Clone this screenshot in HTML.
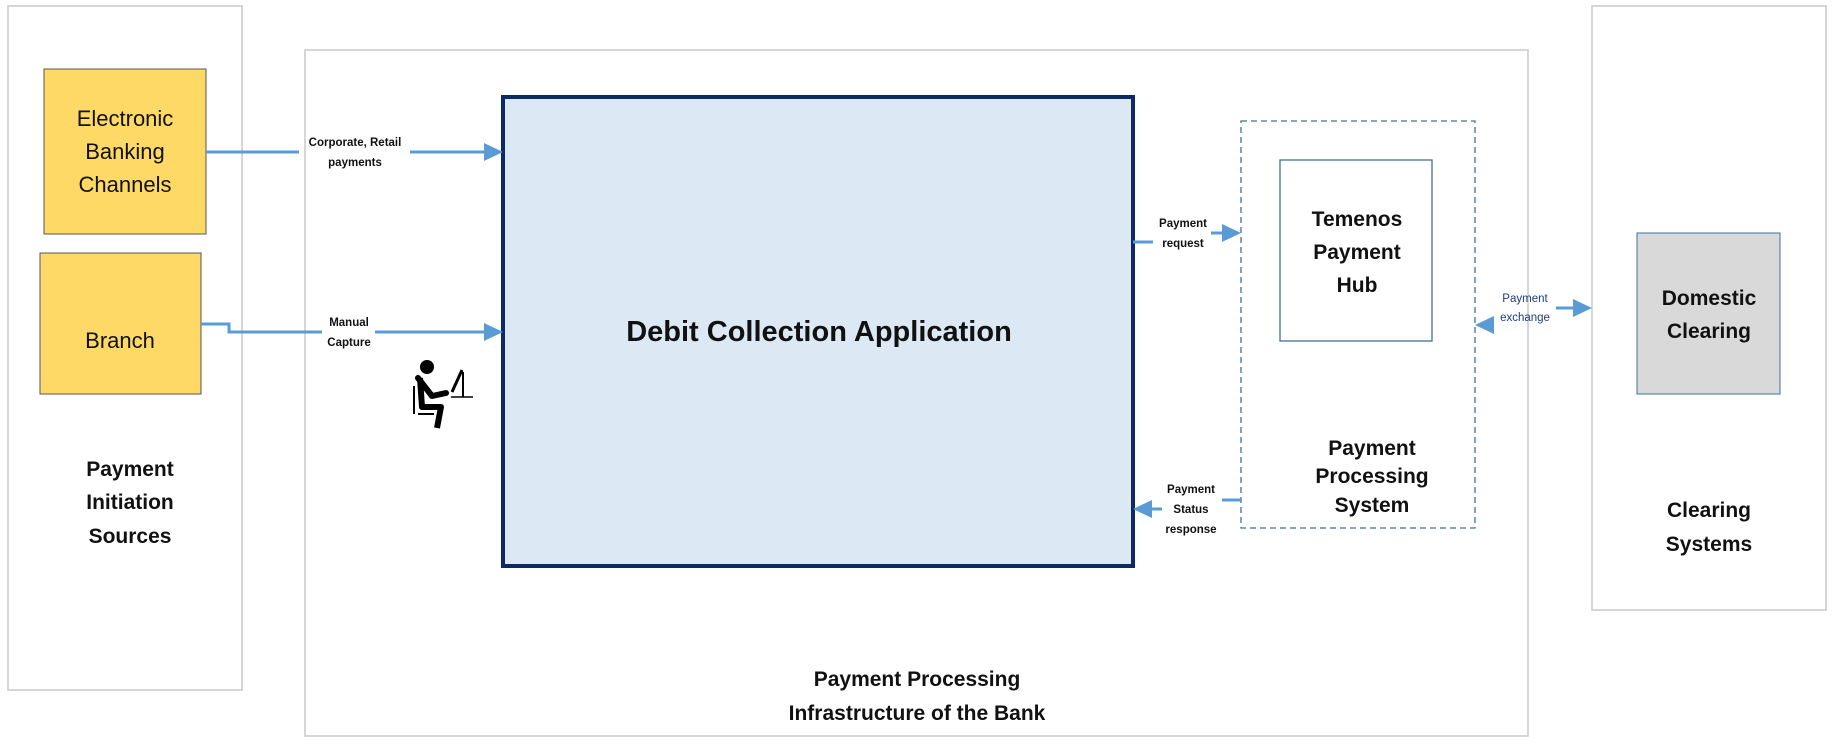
<!DOCTYPE html>
<html><head><meta charset="utf-8"><style>
html,body{margin:0;padding:0;background:#fff;}
svg{display:block;}
text{font-family:"Liberation Sans",sans-serif;}
</style></head><body>
<svg width="1835" height="754" viewBox="0 0 1835 754" xmlns="http://www.w3.org/2000/svg">
<defs>
<marker id="ah" markerWidth="6" markerHeight="6" refX="5" refY="3" orient="auto" markerUnits="strokeWidth">
<path d="M0,0 L6,3 L0,6 Z" fill="#5b9bd5"/></marker>
</defs>
<!-- panels -->
<rect x="8" y="6" width="234" height="684" fill="#fff" stroke="#c8c8c8" stroke-width="1.5"/>
<rect x="305" y="50" width="1223" height="686" fill="#fff" stroke="#c8c8c8" stroke-width="1.5"/>
<rect x="1592" y="6" width="234" height="604" fill="#fff" stroke="#c8c8c8" stroke-width="1.5"/>
<!-- yellow boxes -->
<rect x="44" y="69" width="162" height="165" fill="#ffd966" stroke="#555" stroke-width="1"/>
<rect x="40" y="253" width="161" height="141" fill="#ffd966" stroke="#555" stroke-width="1"/>
<g font-size="22" text-anchor="middle" fill="#111">
<text x="125" y="126">Electronic</text>
<text x="125" y="159">Banking</text>
<text x="125" y="192">Channels</text>
<text x="120" y="348">Branch</text>
</g>
<g font-size="21" font-weight="bold" text-anchor="middle" fill="#111">
<text x="130" y="476">Payment</text>
<text x="130" y="509">Initiation</text>
<text x="130" y="543">Sources</text>
<text x="1709" y="517">Clearing</text>
<text x="1709" y="551">Systems</text>
<text x="917" y="686">Payment Processing</text>
<text x="917" y="720">Infrastructure of the Bank</text>
</g>
<!-- DCA -->
<rect x="503" y="97" width="630" height="469" fill="#dde8f5" stroke="#0b2a66" stroke-width="4"/>
<text x="819" y="341" font-size="29" font-weight="bold" text-anchor="middle" fill="#111">Debit Collection Application</text>
<!-- PPS -->
<rect x="1241" y="121" width="234" height="407" fill="#fff" stroke="#41719c" stroke-width="1.3" stroke-dasharray="6,4"/>
<rect x="1280" y="160" width="152" height="181" fill="#fff" stroke="#41719c" stroke-width="1.3"/>
<g font-size="21" font-weight="bold" text-anchor="middle" fill="#111">
<text x="1357" y="226">Temenos</text>
<text x="1357" y="259">Payment</text>
<text x="1357" y="292">Hub</text>
<text x="1372" y="455">Payment</text>
<text x="1372" y="483">Processing</text>
<text x="1372" y="512">System</text>
</g>
<!-- Domestic clearing -->
<rect x="1637" y="233" width="143" height="161" fill="#d9d9d9" stroke="#41719c" stroke-width="1"/>
<g font-size="21" font-weight="bold" text-anchor="middle" fill="#111">
<text x="1709" y="305">Domestic</text>
<text x="1709" y="338">Clearing</text>
</g>
<!-- connectors -->
<g stroke="#5b9bd5" stroke-width="3" fill="none">
<line x1="206" y1="152" x2="299" y2="152"/>
<line x1="410" y1="152" x2="484" y2="152"/>
<polyline points="201,324 229,324 229,332 322,332"/>
<line x1="375" y1="332" x2="484" y2="332"/>
<line x1="1133" y1="242" x2="1153" y2="242"/>
<line x1="1211" y1="233" x2="1224" y2="233"/>
<line x1="1241" y1="500" x2="1222" y2="500"/>
<line x1="1162" y1="509" x2="1150" y2="509"/>
<line x1="1494" y1="325" x2="1490" y2="325"/>
<line x1="1556" y1="308" x2="1575" y2="308"/>
</g>
<g fill="#5b9bd5">
<polygon points="484,143 503,152 484,161"/>
<polygon points="484,323 503,332 484,341"/>
<polygon points="1222,224 1241,233 1222,242"/>
<polygon points="1152,500 1133,509 1152,518"/>
<polygon points="1494,316 1475,325 1494,334"/>
<polygon points="1573,299 1592,308 1573,317"/>
</g>
<g font-size="11.5" font-weight="bold" text-anchor="middle" fill="#111">
<text x="355" y="146">Corporate, Retail</text>
<text x="355" y="166">payments</text>
<text x="349" y="326">Manual</text>
<text x="349" y="346">Capture</text>
<text x="1183" y="227">Payment</text>
<text x="1183" y="247">request</text>
<text x="1191" y="493">Payment</text>
<text x="1191" y="513">Status</text>
<text x="1191" y="533">response</text>
</g>
<g font-size="11.5" text-anchor="middle" fill="#1f3d7a">
<text x="1525" y="302">Payment</text>
<text x="1525" y="321">exchange</text>
</g>
<!-- person icon -->
<g fill="#000" stroke="#000">
<circle cx="427" cy="367" r="7" stroke="none"/>
<path d="M418,378 L432,396 L446,393" fill="none" stroke-width="6" stroke-linecap="round" stroke-linejoin="round"/>
<path d="M420,378 L422,407 L441,407 L437,428" fill="none" stroke-width="6" stroke-linejoin="round"/>
<line x1="414" y1="386" x2="414" y2="414" stroke-width="2"/>
<line x1="418" y1="414" x2="434" y2="414" stroke-width="2"/>
<line x1="462" y1="370" x2="452" y2="392" stroke-width="3"/>
<line x1="463" y1="372" x2="463" y2="397" stroke-width="2"/>
<line x1="451" y1="397" x2="473" y2="397" stroke-width="1.5"/>
</g>
</svg>
</body></html>
